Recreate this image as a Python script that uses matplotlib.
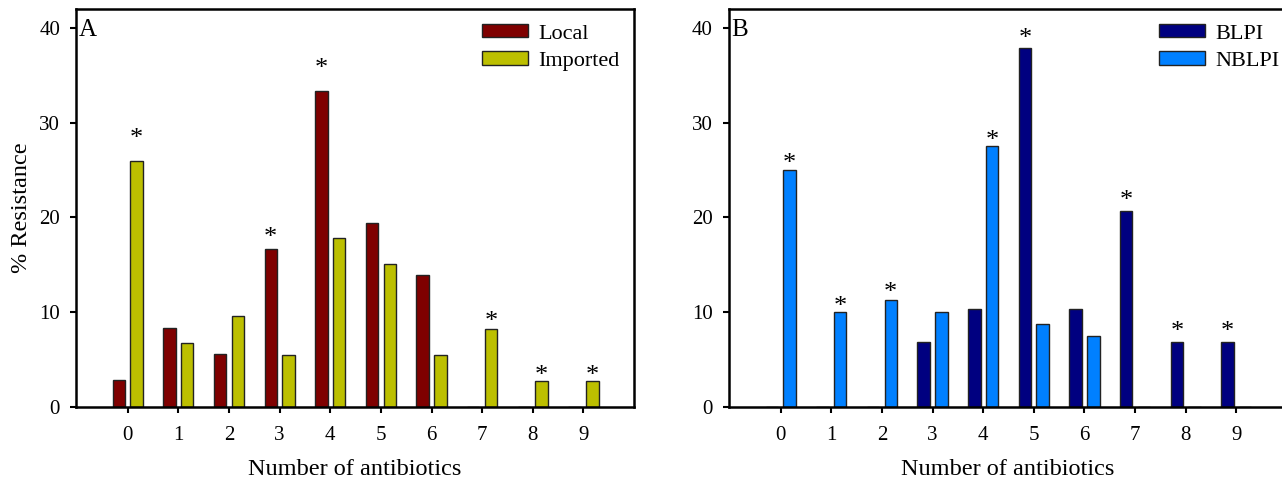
import matplotlib
matplotlib.use('Agg')
import matplotlib.pyplot as plt
import numpy as np

plt.rcParams['font.family'] = ['Liberation Serif', 'DejaVu Serif']

# x categories: number of antibiotics
n_antibiotics = [0, 1, 2, 3, 4, 5, 6, 7, 8, 9]

# panel A: local vs imported (% resistance)
local = [2.8, 8.3, 5.6, 16.7, 33.3, 19.4, 13.9, 0, 0, 0]
imported = [26.0, 6.8, 9.6, 5.5, 17.8, 15.1, 5.5, 8.2, 2.7, 2.7]

# panel B: BLPI vs NBLPI (% resistance)
blpi = [0, 0, 0, 6.9, 10.3, 37.9, 10.3, 20.7, 6.9, 6.9]
nblpi = [25.0, 10.0, 11.3, 10.0, 27.5, 8.8, 7.5, 0, 0, 0]

# significance stars: (category, series index 0/1, star height)
stars_a = [(0, 1, 28.9), (3, 0, 18.5), (4, 0, 36.3), (7, 1, 9.6), (8, 1, 3.9), (9, 1, 3.9)]
stars_b = [(0, 1, 26.3), (1, 1, 11.2), (2, 1, 12.7), (4, 1, 28.7),
           (5, 0, 39.5), (7, 0, 22.4), (8, 0, 8.5), (9, 0, 8.5)]

OFFSET = 0.175
WIDTH = 0.245
STAR_FS = 19


def draw_panel(ax, s1, s2, names, colors, stars, letter, leg_x):
    x = np.array(n_antibiotics)
    ax.bar(x - OFFSET, s1, WIDTH, color=colors[0], edgecolor='#222222',
           linewidth=1.0, label=names[0])
    ax.bar(x + OFFSET, s2, WIDTH, color=colors[1], edgecolor='#222222',
           linewidth=1.0, label=names[1])

    # asterisk glyph sits a bit under half an em above the baseline
    for cat, which, yy in stars:
        xx = cat - OFFSET if which == 0 else cat + OFFSET
        ax.annotate('*', (xx, yy), xytext=(0, -0.45 * STAR_FS),
                    textcoords='offset points', ha='center', va='baseline',
                    fontsize=STAR_FS)

    ax.set_xlim(-1.02, 10.0)
    ax.set_ylim(0, 42)
    ax.set_xticks(n_antibiotics)
    ax.set_yticks([0, 10, 20, 30, 40])
    ax.tick_params(axis='both', direction='out', length=4.5, width=1.5,
                   labelsize=15)
    ax.tick_params(axis='x', pad=9)
    ax.tick_params(axis='y', pad=7)
    for sp in ax.spines.values():
        sp.set_linewidth(1.8)
    ax.set_xlabel('Number of antibiotics', fontsize=17.5, labelpad=10)
    ax.text(0.004, 0.975, letter, transform=ax.transAxes, fontsize=18,
            ha='left', va='top')
    ax.legend(loc='upper left', bbox_to_anchor=(leg_x, 0.962), frameon=False,
              fontsize=16, handlelength=2.05, handleheight=0.55,
              handletextpad=0.5, labelspacing=0.35, borderpad=0,
              borderaxespad=0)


fig = plt.figure(figsize=(12.82, 4.88), dpi=100)
ax_a = fig.add_axes([0.0593, 0.166, 0.4353, 0.8156])
ax_b = fig.add_axes([0.5686, 0.166, 0.4353, 0.8156])

draw_panel(ax_a, local, imported, ['Local', 'Imported'],
           ['#7f0000', '#bcbf00'], stars_a, 'A', 0.7276)
ax_a.set_ylabel('% Resistance', fontsize=17.5, labelpad=5)

draw_panel(ax_b, blpi, nblpi, ['BLPI', 'NBLPI'],
           ['#000080', '#0080ff'], stars_b, 'B', 0.7706)

fig.savefig('out.png', dpi=100)
